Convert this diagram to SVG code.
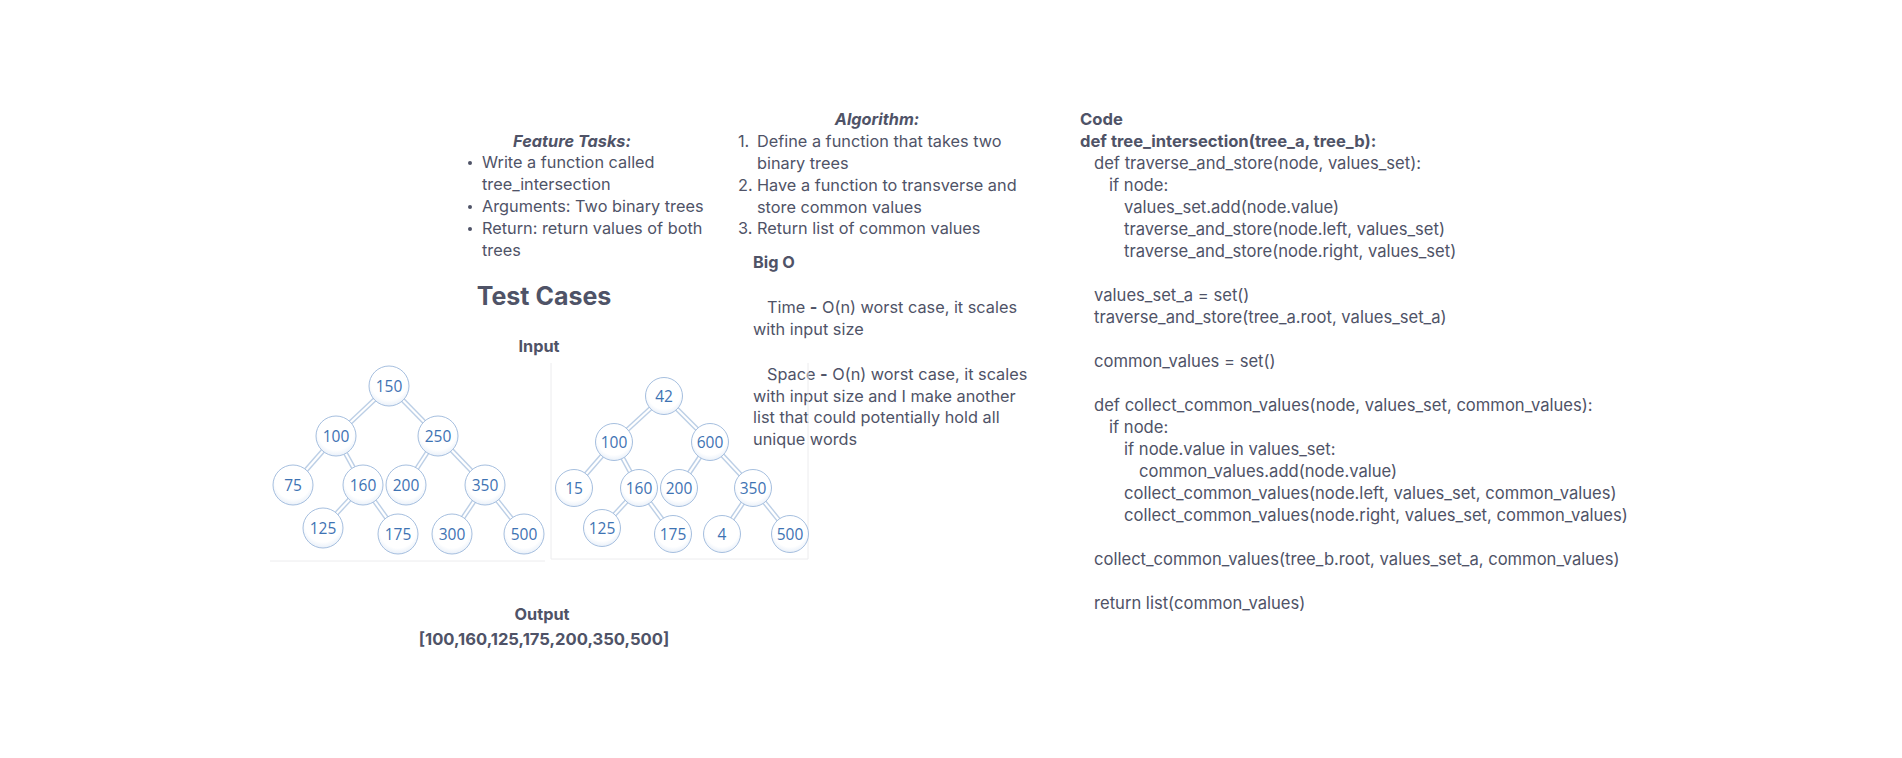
<svg xmlns="http://www.w3.org/2000/svg" width="1902" height="758" viewBox="0 0 1902 758">
<defs>
<radialGradient id="ng" cx="50%" cy="40%" r="60%">
<stop offset="0" stop-color="#ffffff"/>
<stop offset="0.75" stop-color="#ffffff"/>
<stop offset="1" stop-color="#e9f0f9"/>
</radialGradient>
<style>
.t{font-family:Inter,"Noto Sans","Liberation Sans",sans-serif;font-size:16.3px;fill:#4f5367}
.b{font-weight:700}
.i{font-style:italic;font-weight:700}
.h{font-family:Inter,"Noto Sans","Liberation Sans",sans-serif;font-size:25px;font-weight:700;fill:#4f5367}
.c{font-family:Inter,"Noto Sans","Liberation Sans",sans-serif;font-size:16.6px;fill:#4f5367}
.n circle{fill:url(#ng);stroke:#a6bfdf;stroke-width:1}
.n text{font-family:"Open Sans","Liberation Sans",sans-serif;font-size:15.5px;fill:#3e73b3;text-anchor:middle;dominant-baseline:central}
.e1{stroke:#bccfe6;stroke-width:5;fill:none}
.e2{stroke:#ffffff;stroke-width:2.2;fill:none}
.fr{stroke:#ececee;stroke-width:1;fill:none}
</style>
</defs>
<rect width="1902" height="758" fill="#ffffff"/>

<g id="feature-tasks">
<text class="t i" x="572" y="147" text-anchor="middle">Feature Tasks:</text>
<circle cx="470" cy="163" r="2" fill="#4f5367"/>
<text class="t" x="482" y="168">Write a function called</text>
<text class="t" x="482" y="190">tree_intersection</text>
<circle cx="470" cy="207" r="2" fill="#4f5367"/>
<text class="t" x="482" y="212">Arguments: Two binary trees</text>
<circle cx="470" cy="229" r="2" fill="#4f5367"/>
<text class="t" x="482" y="234">Return: return values of both</text>
<text class="t" x="482" y="256">trees</text>
</g>

<g id="algorithm">
<text class="t i" x="877" y="125" text-anchor="middle">Algorithm:</text>
<text class="t" x="738" y="147">1.</text>
<text class="t" x="757" y="147">Define a function that takes two</text>
<text class="t" x="757" y="169">binary trees</text>
<text class="t" x="738" y="191">2.</text>
<text class="t" x="757" y="191">Have a function to transverse and</text>
<text class="t" x="757" y="213">store common values</text>
<text class="t" x="738" y="234">3.</text>
<text class="t" x="757" y="234">Return list of common values</text>
</g>

<g id="big-o">
<text class="t b" x="753" y="268">Big O</text>
<text class="t" x="767" y="313">Time <tspan class="b">-</tspan> O(n) worst case, it scales</text>
<text class="t" x="753" y="335">with input size</text>
<text class="t" x="767" y="380">Space <tspan class="b">-</tspan> O(n) worst case, it scales</text>
<text class="t" x="753" y="402">with input size and I make another</text>
<text class="t" x="753" y="423">list that could potentially hold all</text>
<text class="t" x="753" y="445">unique words</text>
</g>

<g id="code">
<text class="c b" x="1080" y="125">Code</text>
<text class="c b" x="1080" y="147">def tree_intersection(tree_a, tree_b):</text>
<text class="c" x="1094" y="169">def traverse_and_store(node, values_set):</text>
<text class="c" x="1109" y="191">if node:</text>
<text class="c" x="1124" y="213">values_set.add(node.value)</text>
<text class="c" x="1124" y="235">traverse_and_store(node.left, values_set)</text>
<text class="c" x="1124" y="257">traverse_and_store(node.right, values_set)</text>
<text class="c" x="1094" y="301">values_set_a = set()</text>
<text class="c" x="1094" y="323">traverse_and_store(tree_a.root, values_set_a)</text>
<text class="c" x="1094" y="367">common_values = set()</text>
<text class="c" x="1094" y="411">def collect_common_values(node, values_set, common_values):</text>
<text class="c" x="1109" y="433">if node:</text>
<text class="c" x="1124" y="455">if node.value in values_set:</text>
<text class="c" x="1139" y="477">common_values.add(node.value)</text>
<text class="c" x="1124" y="499">collect_common_values(node.left, values_set, common_values)</text>
<text class="c" x="1124" y="521">collect_common_values(node.right, values_set, common_values)</text>
<text class="c" x="1094" y="565">collect_common_values(tree_b.root, values_set_a, common_values)</text>
<text class="c" x="1094" y="609">return list(common_values)</text>
</g>

<g id="test-cases">
<text class="h" x="544" y="305" text-anchor="middle">Test Cases</text>
<text class="t b" x="539" y="352" text-anchor="middle">Input</text>
<text class="t b" x="542" y="620" text-anchor="middle">Output</text>
<text class="t b" x="544" y="645" text-anchor="middle" style="font-size:16.6px">[100,160,125,175,200,350,500]</text>
</g>

<g id="frames">
<line class="fr" x1="270" y1="561" x2="545" y2="561"/>
<line class="fr" x1="551" y1="363" x2="551" y2="559"/>
<line class="fr" x1="551" y1="559" x2="808" y2="559"/>
<line class="fr" x1="808" y1="363" x2="808" y2="559"/>
</g>

<g id="connectors">
<g class="e1">
<line x1="389" y1="386" x2="336" y2="436"/>
<line x1="389" y1="386" x2="438" y2="436"/>
<line x1="336" y1="436" x2="293" y2="485"/>
<line x1="336" y1="436" x2="363" y2="485"/>
<line x1="363" y1="485" x2="323" y2="528"/>
<line x1="363" y1="485" x2="398" y2="534"/>
<line x1="438" y1="436" x2="406" y2="485"/>
<line x1="438" y1="436" x2="485" y2="485"/>
<line x1="485" y1="485" x2="452" y2="534"/>
<line x1="485" y1="485" x2="524" y2="534"/>
<line x1="664" y1="396" x2="614" y2="442"/>
<line x1="664" y1="396" x2="710" y2="442"/>
<line x1="614" y1="442" x2="574" y2="488"/>
<line x1="614" y1="442" x2="639" y2="488"/>
<line x1="639" y1="488" x2="602" y2="528"/>
<line x1="639" y1="488" x2="673" y2="534"/>
<line x1="710" y1="442" x2="679" y2="488"/>
<line x1="710" y1="442" x2="753" y2="488"/>
<line x1="753" y1="488" x2="722" y2="534"/>
<line x1="753" y1="488" x2="790" y2="534"/>
</g>
<g class="e2">
<line x1="389" y1="386" x2="336" y2="436"/>
<line x1="389" y1="386" x2="438" y2="436"/>
<line x1="336" y1="436" x2="293" y2="485"/>
<line x1="336" y1="436" x2="363" y2="485"/>
<line x1="363" y1="485" x2="323" y2="528"/>
<line x1="363" y1="485" x2="398" y2="534"/>
<line x1="438" y1="436" x2="406" y2="485"/>
<line x1="438" y1="436" x2="485" y2="485"/>
<line x1="485" y1="485" x2="452" y2="534"/>
<line x1="485" y1="485" x2="524" y2="534"/>
<line x1="664" y1="396" x2="614" y2="442"/>
<line x1="664" y1="396" x2="710" y2="442"/>
<line x1="614" y1="442" x2="574" y2="488"/>
<line x1="614" y1="442" x2="639" y2="488"/>
<line x1="639" y1="488" x2="602" y2="528"/>
<line x1="639" y1="488" x2="673" y2="534"/>
<line x1="710" y1="442" x2="679" y2="488"/>
<line x1="710" y1="442" x2="753" y2="488"/>
<line x1="753" y1="488" x2="722" y2="534"/>
<line x1="753" y1="488" x2="790" y2="534"/>
</g>
</g>

<g id="a150" class="n"><circle cx="389" cy="386" r="20"/><text x="389" y="386">150</text></g>
<g id="a100" class="n"><circle cx="336" cy="436" r="20"/><text x="336" y="436">100</text></g>
<g id="a250" class="n"><circle cx="438" cy="436" r="20"/><text x="438" y="436">250</text></g>
<g id="a75" class="n"><circle cx="293" cy="485" r="20"/><text x="293" y="485">75</text></g>
<g id="a160" class="n"><circle cx="363" cy="485" r="20"/><text x="363" y="485">160</text></g>
<g id="a200" class="n"><circle cx="406" cy="485" r="20"/><text x="406" y="485">200</text></g>
<g id="a350" class="n"><circle cx="485" cy="485" r="20"/><text x="485" y="485">350</text></g>
<g id="a125" class="n"><circle cx="323" cy="528" r="20"/><text x="323" y="528">125</text></g>
<g id="a175" class="n"><circle cx="398" cy="534" r="20"/><text x="398" y="534">175</text></g>
<g id="a300" class="n"><circle cx="452" cy="534" r="20"/><text x="452" y="534">300</text></g>
<g id="a500" class="n"><circle cx="524" cy="534" r="20"/><text x="524" y="534">500</text></g>

<g id="b42" class="n"><circle cx="664" cy="396" r="18.5"/><text x="664" y="396">42</text></g>
<g id="b100" class="n"><circle cx="614" cy="442" r="18.5"/><text x="614" y="442">100</text></g>
<g id="b600" class="n"><circle cx="710" cy="442" r="18.5"/><text x="710" y="442">600</text></g>
<g id="b15" class="n"><circle cx="574" cy="488" r="18.5"/><text x="574" y="488">15</text></g>
<g id="b160" class="n"><circle cx="639" cy="488" r="18.5"/><text x="639" y="488">160</text></g>
<g id="b200" class="n"><circle cx="679" cy="488" r="18.5"/><text x="679" y="488">200</text></g>
<g id="b350" class="n"><circle cx="753" cy="488" r="18.5"/><text x="753" y="488">350</text></g>
<g id="b125" class="n"><circle cx="602" cy="528" r="18.5"/><text x="602" y="528">125</text></g>
<g id="b175" class="n"><circle cx="673" cy="534" r="18.5"/><text x="673" y="534">175</text></g>
<g id="b4" class="n"><circle cx="722" cy="534" r="18.5"/><text x="722" y="534">4</text></g>
<g id="b500" class="n"><circle cx="790" cy="534" r="18.5"/><text x="790" y="534">500</text></g>
</svg>
